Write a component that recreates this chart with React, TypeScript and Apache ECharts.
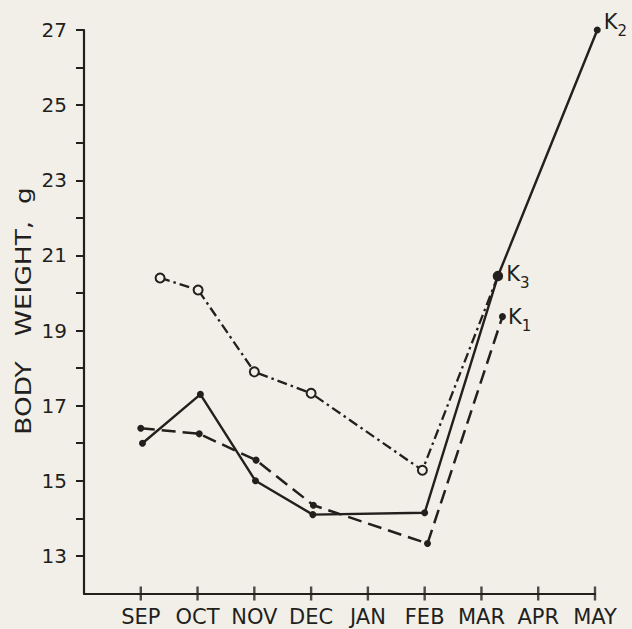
import React, { useEffect, useRef } from "react";
import * as echarts from "echarts";

const months = ["SEP", "OCT", "NOV", "DEC", "JAN", "FEB", "MAR", "APR", "MAY"];
const yTickLabels = [13, 15, 17, 19, 21, 23, 25, 27];
const yTitle = "BODY   WEIGHT,  g";

// position along the month axis (SEP = 0 ... MAY = 8) and body weight (g)
const k2X = [0.03, 1.05, 2.02, 3.03, 5.0, 6.29, 8.04];
const k2Y = [16.0, 17.3, 15.0, 14.1, 14.15, 20.45, 27.0];

const k1X = [0.0, 1.03, 2.03, 3.04, 5.05, 6.37];
const k1Y = [16.4, 16.25, 15.55, 14.35, 13.33, 19.37];

const k3X = [0.34, 1.01, 2.0, 3.0, 4.96, 6.29];
const k3Y = [20.4, 20.08, 17.9, 17.33, 15.28, 20.45];

const Y_MIN = 12;
const INK = "#221f1d";
const PAPER = "#f2efe9";

const kLabel = (sub: string, distance: number, offset: number[]) => ({
  show: true,
  position: "right",
  distance,
  offset,
  formatter: `{k|K}{s|${sub}}`,
  rich: {
    k: { fontSize: 21, fontFamily: "DejaVu Sans", color: INK, verticalAlign: "top", lineHeight: 22 },
    s: { fontSize: 15, fontFamily: "DejaVu Sans", color: INK, verticalAlign: "bottom", lineHeight: 27 },
  },
});

export default function App() {
  const ref = useRef<HTMLDivElement>(null);
  useEffect(() => {
    document.body.style.margin = "0";
    document.body.style.background = PAPER;
    const chart = echarts.init(ref.current!, null, { renderer: "svg" });

    const k2Data = k2X.map((x, i) => {
      const d: any = { value: [x, k2Y[i]] };
      if (i === k2X.length - 1) d.label = kLabel("2", 3, [0, -5]);
      if (i === 5) d.symbolSize = 0;
      return d;
    });
    const k1Data = k1X.map((x, i) => {
      const d: any = { value: [x, k1Y[i]] };
      if (i === k1X.length - 1) d.label = kLabel("1", 2, [0, 3]);
      return d;
    });
    const k3Data = k3X.map((x, i) => {
      const d: any = { value: [x, k3Y[i]] };
      if (i === k3X.length - 1) {
        d.symbolSize = 9;
        d.itemStyle = { color: INK, borderColor: INK, borderWidth: 1.5 };
        d.label = kLabel("3", 3, [0, 1]);
      }
      return d;
    });

    chart.setOption({
      animation: false,
      backgroundColor: PAPER,
      grid: { left: 84, right: 37, top: 30, bottom: 35.5 },
      graphic: [
        {
          type: "text",
          x: 23,
          y: 311,
          rotation: Math.PI / 2,
          scaleX: 1.2,
          style: {
            text: yTitle,
            fontSize: 22,
            fontFamily: "DejaVu Sans",
            fill: INK,
            align: "center",
            verticalAlign: "middle",
          },
        },
      ],
      xAxis: {
        type: "value",
        min: -1,
        max: 8,
        interval: 1,
        splitLine: { show: false },
        axisLine: { show: true, onZero: false, lineStyle: { color: INK, width: 2.2 } },
        axisTick: { show: false },
        axisLabel: {
          customValues: months.map((_, i) => i),
          formatter: (v: number) => months[Math.round(v)] ?? "",
          fontSize: 21,
          fontFamily: "DejaVu Sans",
          color: INK,
          margin: 13,
        },
      },
      yAxis: {
        type: "value",
        min: Y_MIN,
        max: 27,
        interval: 1,
        splitLine: { show: false },
        axisLine: { show: true, onZero: false, lineStyle: { color: INK, width: 2.2 } },
        axisTick: {
          show: true,
          length: 8,
          lineStyle: { color: INK, width: 2 },
          customValues: [13, 14, 15, 16, 17, 18, 19, 20, 21, 22, 23, 24, 25, 26, 27],
        },
        axisLabel: {
          customValues: yTickLabels,
          formatter: (v: number) => String(v),
          fontSize: 20,
          fontFamily: "DejaVu Sans",
          color: INK,
          margin: 17,
        },
      },
      series: [
        {
          name: "month ticks",
          type: "scatter",
          data: months.map((_, i) => [i, Y_MIN]),
          symbol: "rect",
          symbolSize: [2.4, 14],
          symbolOffset: [0, 0],
          clip: false,
          silent: true,
          itemStyle: { color: INK },
          z: 10,
        },
        {
          name: "K2",
          type: "line",
          data: k2Data,
          clip: false,
          symbol: "circle",
          symbolSize: 7,
          itemStyle: { color: INK },
          lineStyle: { color: INK, width: 2.4, type: "solid" },
          z: 3,
        },
        {
          name: "K1",
          type: "line",
          data: k1Data,
          clip: false,
          symbol: "circle",
          symbolSize: 7,
          itemStyle: { color: INK },
          lineStyle: { color: INK, width: 2.5, type: [14, 7] },
          z: 2,
        },
        {
          name: "K3",
          type: "line",
          data: k3Data,
          clip: false,
          symbol: "circle",
          symbolSize: 9,
          itemStyle: { color: PAPER, borderColor: INK, borderWidth: 2 },
          lineStyle: { color: INK, width: 2.3, type: [10, 4, 2.5, 4] },
          z: 4,
        },
      ],
    });
    return () => chart.dispose();
  }, []);
  return <div ref={ref} style={{ width: 632, height: 629 }} />;
}
